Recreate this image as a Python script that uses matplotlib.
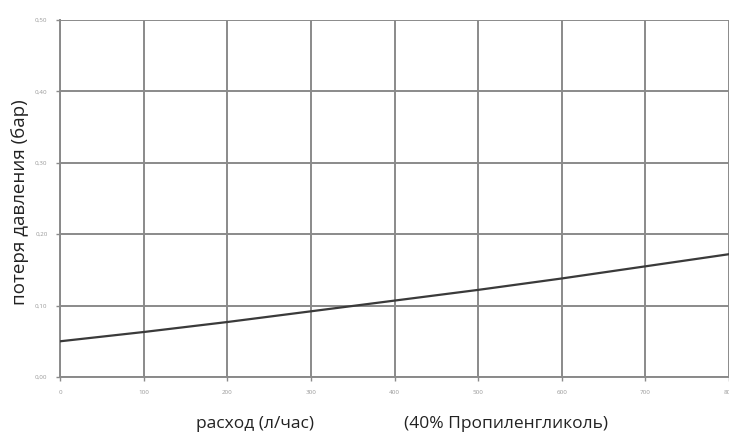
import numpy as np
import matplotlib as mpl
mpl.use("Agg")
import matplotlib.pyplot as plt

mpl.rcParams.update({"font.family": ["Open Sans", "DejaVu Sans"]})

flow = [0, 100, 200, 300, 400, 500, 600, 700, 800]
loss = [0.050, 0.063, 0.077, 0.092, 0.107, 0.122, 0.138, 0.155, 0.172]
xticks = [0, 100, 200, 300, 400, 500, 600, 700, 800]
yticks = [0.0, 0.1, 0.2, 0.3, 0.4, 0.5]
ylabels = ["0,00", "0,10", "0,20", "0,30", "0,40", "0,50"]

GRID = "#8a8a8a"

fig = plt.figure(figsize=(7.29, 4.33), dpi=100)
ax = fig.add_axes([60 / 729, 1 - 377 / 433, 1 - 60 / 729, (377 - 20) / 433])
ax.plot(flow, loss, color="#3a3a3a", lw=1.6, zorder=3)
ax.set_xlim(0, 800)
ax.set_ylim(0, 0.5)
ax.set_xticks(xticks)
ax.set_xticklabels([str(v) for v in xticks], fontsize=4.5, color="#999999")
ax.set_yticks(yticks)
ax.set_yticklabels(ylabels, fontsize=4.5, color="#999999")
ax.tick_params(length=3, width=1, color=GRID, pad=6)
ax.grid(True, color=GRID, lw=1.4)
ax.set_axisbelow(True)
for s in ax.spines.values():
    s.set_visible(False)
ax.spines["left"].set_visible(True)
ax.spines["left"].set_color(GRID)
ax.spines["left"].set_linewidth(1.4)
ax.spines["bottom"].set_visible(True)
ax.spines["bottom"].set_color(GRID)
ax.spines["bottom"].set_linewidth(1.4)

fig.text(20 / 729, 1 - 202 / 433, "потеря давления (бар)", rotation=90,
         ha="center", va="center", fontsize=13.5, color="#222222")
fig.text(255 / 729, 1 - 424 / 433, "расход (л/час)", ha="center", va="center",
         fontsize=12.5, color="#222222")
fig.text(506 / 729, 1 - 424 / 433, "(40% Пропиленгликоль)", ha="center",
         va="center", fontsize=12.5, color="#222222")

fig.savefig("out.png", dpi=100)
